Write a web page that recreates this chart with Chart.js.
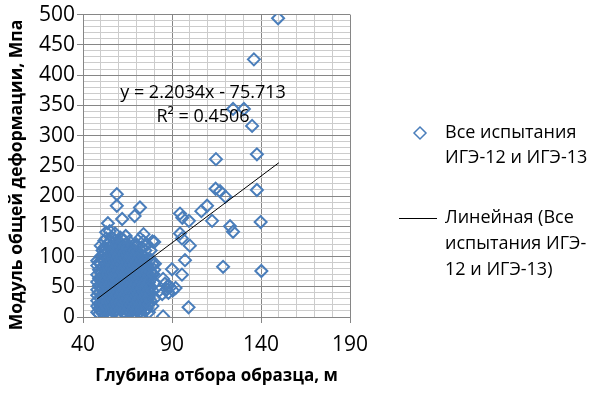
<!DOCTYPE html>
<html>
<head>
<meta charset="utf-8">
<script src="https://cdn.jsdelivr.net/npm/chart.js@4/dist/chart.umd.min.js"></script>
<style>
  html, body { margin: 0; padding: 0; background: #fff; }
  #wrap { width: 595px; height: 395px; }
</style>
</head>
<body>
<div id="wrap"><canvas id="chart"></canvas></div>
<script>
// dense part of the cloud: one depth, several moduli at that depth
var clusterDepth = [48, 49, 50, 51, 52, 53, 54, 55, 56, 57, 58, 59, 60, 61, 62, 63, 64,
	65, 66, 67, 68, 69, 70, 71, 72, 73, 74, 75, 76, 77, 78, 79, 80];
var clusterModulus = [
	[8, 18, 27, 36, 45, 58, 70, 85, 93],
	[5, 14, 22, 40, 52, 64, 78, 90],
	[10, 20, 31, 47, 60, 73, 88, 100, 118],
	[6, 16, 26, 38, 55, 67, 82, 95, 110],
	[12, 23, 34, 44, 57, 69, 80, 92, 104, 115, 126],
	[8, 19, 30, 41, 52, 63, 75, 87, 99, 112, 130, 140],
	[14, 25, 37, 48, 60, 71, 84, 96, 107, 120, 155],
	[6, 18, 29, 42, 53, 65, 78, 90, 102, 114, 125, 142],
	[11, 22, 34, 46, 58, 70, 81, 93, 105, 117, 132],
	[16, 27, 39, 51, 62, 74, 86, 98, 110, 122],
	[9, 20, 32, 44, 56, 67, 79, 91, 103, 115, 127, 138],
	[13, 25, 37, 49, 60, 72, 84, 96, 108, 120, 184, 203],
	[7, 18, 30, 42, 54, 65, 77, 89, 101, 113, 125],
	[12, 23, 35, 47, 59, 70, 82, 94, 106, 118, 131],
	[16, 28, 40, 52, 63, 75, 87, 99, 111, 162],
	[9, 21, 33, 45, 57, 68, 80, 92, 104, 116, 127],
	[5, 14, 26, 38, 50, 61, 73, 85, 97, 109, 120, 134],
	[10, 19, 31, 43, 55, 66, 78, 90, 102, 114],
	[15, 24, 36, 48, 59, 71, 83, 95, 107, 125],
	[8, 20, 29, 41, 53, 64, 76, 88, 100, 112],
	[12, 25, 34, 46, 58, 69, 81, 93, 105, 118],
	[0, 6, 17, 30, 39, 51, 62, 74, 86, 98, 110, 167],
	[10, 22, 35, 44, 56, 67, 79, 91, 103, 120],
	[15, 27, 38, 49, 61, 72, 84, 96, 108],
	[8, 20, 32, 43, 54, 66, 77, 89, 101, 130, 181],
	[5, 13, 25, 37, 48, 59, 71, 82, 94, 115],
	[18, 30, 42, 53, 64, 76, 88, 100, 125, 137],
	[10, 23, 35, 47, 58, 69, 81, 93, 110],
	[15, 28, 40, 52, 63, 74, 86, 120],
	[8, 21, 33, 45, 57, 68, 80],
	[27, 39, 50, 62, 75, 95, 110],
	[18, 44, 71, 88, 125],
	[30, 56, 78, 124]
];

// scattered points outside the cloud
var outlierDepth = [149.6, 136, 124.3, 130.4, 135, 137.7, 137.7, 114.7, 114.5, 117, 120, 109.7,
	106.5, 112.5, 122.6, 124.3, 139.8, 118.7, 140.2, 94.5, 95.8, 99.5, 94.5, 95.6, 100, 97.3,
	95.6, 90, 85, 79.5, 80.4, 89, 90.5, 83, 84.5, 99.3, 85, 88, 87, 86, 92, 88];
var outlierModulus = [494, 426, 344, 344, 316, 269, 210, 261, 212, 208, 199, 184,
	175, 159, 150, 141, 157, 83, 76, 171, 164, 159, 138, 130, 118, 94,
	70, 79, 63, 71, 88, 49, 44, 44, 38, 16, 1, 52, 46, 55, 48, 40];

// linear trend, ends
var trendDepth = [48, 150];
var trendModulus = [30, 255];

var seriesName = ['Все испытания', 'ИГЭ-12 и ИГЭ-13'];
var trendName = ['Линейная (Все', 'испытания ИГЭ-', '12 и ИГЭ-13)'];
var equationText = ['y = 2.2034x - 75.713', 'R² = 0.4506'];
var yTitle = 'Модуль общей деформации, Мпа';

var blue = '#4a7ebb';

var points = [];
for (var i = 0; i < clusterDepth.length; i++) {
	for (var j = 0; j < clusterModulus[i].length; j++) {
		points.push({x: clusterDepth[i], y: clusterModulus[i][j]});
	}
}
for (var k = 0; k < outlierDepth.length; k++) {
	points.push({x: outlierDepth[k], y: outlierModulus[k]});
}
var trend = [];
for (var t = 0; t < trendDepth.length; t++) trend.push({x: trendDepth[t], y: trendModulus[t]});

var majorGrid = '#868686';
var minorGrid = '#cccccc';

// equation, y title and the hand made legend
var textPlugin = {
	id: 'textPlugin',
	afterDraw: function(chart) {
		var ctx = chart.ctx;
		ctx.save();
		ctx.fillStyle = '#000';
		ctx.font = '18px "Open Sans"';
		ctx.textAlign = 'center';
		ctx.textBaseline = 'middle';
		ctx.fillText(equationText[0], 203, 93);
		ctx.fillText(equationText[1], 203, 117);

		ctx.textAlign = 'left';
		ctx.fillText(seriesName[0], 445, 133);
		ctx.fillText(seriesName[1], 445, 158);
		for (var n = 0; n < trendName.length; n++) {
			ctx.fillText(trendName[n], 445, 218 + n * 26);
		}

		ctx.strokeStyle = blue;
		ctx.lineWidth = 1.5;
		ctx.beginPath();
		ctx.moveTo(420, 127); ctx.lineTo(426, 133); ctx.lineTo(420, 139); ctx.lineTo(414, 133);
		ctx.closePath();
		ctx.stroke();

		ctx.strokeStyle = '#000';
		ctx.lineWidth = 1;
		ctx.beginPath();
		ctx.moveTo(399, 218.5); ctx.lineTo(437, 218.5);
		ctx.stroke();

		ctx.translate(17, 175);
		ctx.rotate(-Math.PI / 2);
		ctx.textAlign = 'center';
		ctx.font = 'bold 17.5px "Open Sans"';
		ctx.fillText(yTitle, 0, 0);
		ctx.restore();
	}
};

var ctx = document.getElementById('chart').getContext('2d');
var chart = new Chart(ctx, {
	type: 'scatter',
	data: {
		datasets: [{
			label: trendName.join(' '),
			type: 'line',
			data: trend,
			borderColor: '#000',
			borderWidth: 1,
			pointRadius: 0,
			fill: false,
			order: 0
		}, {
			label: seriesName.join(' '),
			data: points,
			pointStyle: 'rectRot',
			pointRadius: 6,
			borderWidth: 2,
			borderColor: blue,
			backgroundColor: 'rgba(0,0,0,0)',
			order: 1
		}]
	},
	options: {
		responsive: true,
		maintainAspectRatio: false,
		animation: false,
		layout: {padding: {left: 0, top: 12, right: 245, bottom: 0}},
		plugins: {legend: {display: false}, tooltip: {enabled: false}},
		scales: {
			x: {
				type: 'linear',
				min: 40, max: 190,
				afterFit: function(scale) { scale.height = 78; },
				ticks: {
					stepSize: 10, autoSkip: false, maxRotation: 0, padding: 9,
					color: '#000', font: {family: 'Open Sans', size: 21},
					callback: function(v) { return (v - 40) % 50 === 0 ? v : ''; }
				},
				grid: {
					tickLength: 6,
					color: function(c) { return (c.tick.value - 40) % 50 === 0 ? majorGrid : minorGrid; },
					tickColor: function(c) { return (c.tick.value - 40) % 50 === 0 ? majorGrid : 'rgba(0,0,0,0)'; }
				},
				border: {color: majorGrid},
				title: {
					display: true, text: 'Глубина отбора образца, м', color: '#000',
					font: {family: 'Open Sans', size: 17, weight: 'bold'}, padding: {top: 0, bottom: 9}
				}
			},
			y: {
				min: 0, max: 500,
				afterFit: function(scale) { scale.width = 83; },
				ticks: {
					stepSize: 10, autoSkip: false, padding: 2,
					color: '#000', font: {family: 'Open Sans', size: 21},
					callback: function(v) { return v % 50 === 0 ? v : ''; }
				},
				grid: {
					tickLength: 6,
					color: function(c) { return c.tick.value % 50 === 0 ? majorGrid : minorGrid; },
					tickColor: function(c) { return c.tick.value % 50 === 0 ? majorGrid : 'rgba(0,0,0,0)'; }
				},
				border: {color: majorGrid}
			}
		}
	},
	plugins: [textPlugin]
});
</script>
</body>
</html>
